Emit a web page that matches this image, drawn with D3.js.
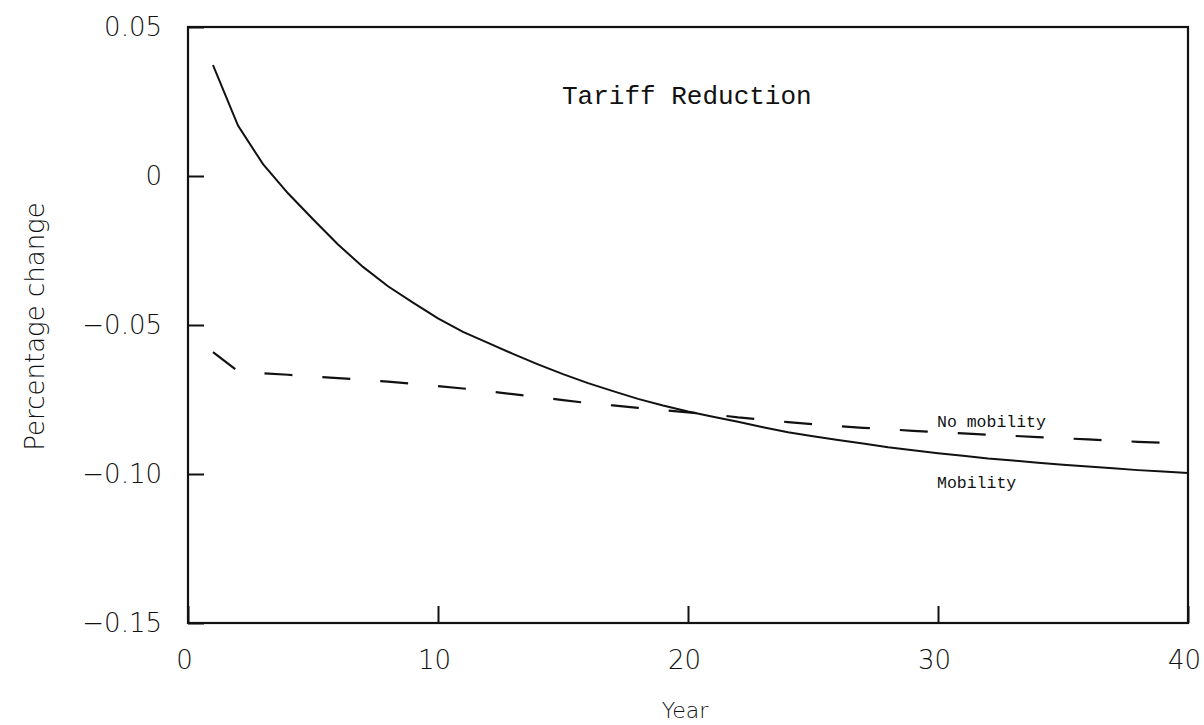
<!DOCTYPE html>
<html>
<head>
<meta charset="utf-8">
<script src="https://cdn.jsdelivr.net/npm/d3@7"></script>
<style>
  body { margin: 0; background: #fff; }
  .tick text { font-family: "DejaVu Sans", sans-serif; font-weight: 200; }
</style>
</head>
<body>
<div id="graph"></div>
<script>
// values
const years = d3.range(1, 41)
const mobility = [
  0.0372, 0.0169, 0.0040, -0.0058, -0.0145, -0.0230, -0.0305, -0.0370, -0.0425, -0.0478,
  -0.0523, -0.0560, -0.0597, -0.0632, -0.0665, -0.0695, -0.0722, -0.0748, -0.0770, -0.0790,
  -0.0808, -0.0825, -0.0843, -0.0860, -0.0873, -0.0886, -0.0898, -0.0910, -0.0920, -0.0930,
  -0.0939, -0.0948, -0.0955, -0.0962, -0.0969, -0.0975, -0.0981, -0.0987, -0.0992, -0.0997
]
const noMobility = [
  -0.0591, -0.0655, -0.0662, -0.0667, -0.0673, -0.0678, -0.0684, -0.0690, -0.0697, -0.0705,
  -0.0713, -0.0722, -0.0732, -0.0742, -0.0752, -0.0762, -0.0770, -0.0778, -0.0786, -0.0793,
  -0.0800, -0.0810, -0.0818, -0.0826, -0.0833, -0.0839, -0.0845, -0.0850, -0.0855, -0.0860,
  -0.0864, -0.0868, -0.0872, -0.0876, -0.0880, -0.0884, -0.0888, -0.0892, -0.0895, -0.0898
]
const xTicks = [0, 10, 20, 30, 40]
const yTicks = [-0.15, -0.10, -0.05, 0, 0.05]
const yTickLabels = ['\u22120.15', '\u22120.10', '\u22120.05', '0', '0.05']

const margins = { top: 27, right: 16, bottom: 102, left: 188 }
const width = 1204 - margins.left - margins.right
const height = 725 - margins.top - margins.bottom

const svg = d3.select('#graph')
  .append('svg')
  .attr('width', 1204)
  .attr('height', 725)
  .append('g')
  .attr('transform', `translate(${margins.left}, ${margins.top})`)

const x = d3.scaleLinear([0, 40], [0, width])
const y = d3.scaleLinear([-0.15, 0.05], [height, 0])

// axes, ticks pointing into the plot
const xAxis = svg.append('g')
  .attr('transform', `translate(0, ${height})`)
  .call(d3.axisBottom(x).tickValues(xTicks).tickSizeInner(-17).tickSizeOuter(0).tickPadding(28))
const yAxis = svg.append('g')
  .call(d3.axisLeft(y).tickValues(yTicks).tickSizeInner(-16).tickSizeOuter(0).tickPadding(26)
    .tickFormat((d, i) => yTickLabels[i]))

xAxis.select('.domain').remove()
yAxis.select('.domain').remove()
svg.selectAll('.tick line').attr('stroke', '#111').attr('stroke-width', 2)
xAxis.selectAll('text').attr('font-size', 26).attr('fill', '#111').attr('dx', -4)
yAxis.selectAll('text').attr('font-size', 26).attr('fill', '#111')

// frame
svg.append('rect')
  .attr('x', 0).attr('y', 0)
  .attr('width', width).attr('height', height)
  .attr('fill', 'none')
  .attr('stroke', '#111')
  .attr('stroke-width', 2.2)

const line = d3.line()
  .x((d, i) => x(years[i]))
  .y(d => y(d))

svg.append('path')
  .datum(mobility)
  .attr('fill', 'none')
  .attr('stroke', '#111')
  .attr('stroke-width', 2)
  .attr('d', line)

svg.append('path')
  .datum(noMobility)
  .attr('fill', 'none')
  .attr('stroke', '#111')
  .attr('stroke-width', 2.2)
  .attr('stroke-dasharray', '28,30')
  .attr('d', line)

// labels inside the plot
const mono = '"Liberation Mono", "DejaVu Sans Mono", monospace'
svg.append('text')
  .attr('x', x(15) - 1)
  .attr('y', 77)
  .attr('font-family', mono)
  .attr('font-size', 26)
  .attr('fill', '#111')
  .text('Tariff Reduction')

svg.append('text')
  .attr('x', x(30) - 1)
  .attr('y', y(-0.0842))
  .attr('font-family', mono)
  .attr('font-size', 16.5)
  .attr('fill', '#111')
  .text('No mobility')

svg.append('text')
  .attr('x', x(30) - 1)
  .attr('y', y(-0.1047))
  .attr('font-family', mono)
  .attr('font-size', 16.5)
  .attr('fill', '#111')
  .text('Mobility')

// axis titles
svg.append('text')
  .attr('x', x(20) - 3)
  .attr('y', height + 95)
  .attr('text-anchor', 'middle')
  .attr('font-family', '"DejaVu Sans", sans-serif')
  .attr('font-weight', 200)
  .attr('font-size', 22)
  .attr('fill', '#111')
  .text('Year')

svg.append('text')
  .attr('transform', `translate(${-margins.left + 44}, ${y(-0.0505)}) rotate(-90)`)
  .attr('text-anchor', 'middle')
  .attr('font-family', '"DejaVu Sans", sans-serif')
  .attr('font-weight', 300)
  .attr('font-size', 26)
  .attr('fill', '#111')
  .text('Percentage change')
</script>
</body>
</html>
